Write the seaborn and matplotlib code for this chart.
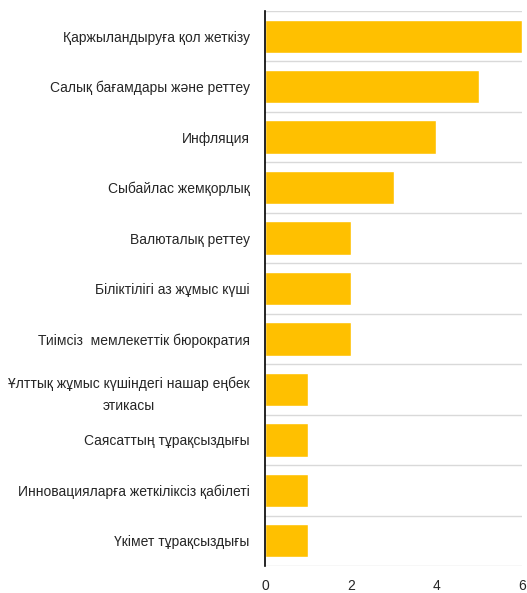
import numpy as np
import pandas as pd
import matplotlib
matplotlib.use("Agg")
import matplotlib.pyplot as plt
import seaborn as sns

categories = [
    "Қаржыландыруға қол жеткізу",
    "Салық бағамдары және реттеу",
    "Инфляция",
    "Сыбайлас жемқорлық",
    "Валюталық реттеу",
    "Біліктілігі аз жұмыс күші",
    "Тиімсіз  мемлекеттік бюрократия",
    "Ұлттық жұмыс күшіндегі нашар еңбек\nэтикасы",
    "Саясаттың тұрақсыздығы",
    "Инновацияларға жеткіліксіз қабілеті",
    "Үкімет тұрақсыздығы",
]
values = [6, 5, 4, 3, 2, 2, 2, 1, 1, 1, 1]
xticks = [0, 2, 4, 6]

df = pd.DataFrame({"category": categories, "value": values})

sns.set_theme(style="white")
plt.rcParams["font.family"] = ["Liberation Sans", "DejaVu Sans"]

fig = plt.figure(figsize=(5.27, 5.93), dpi=100)
ax = fig.add_axes([0.503, 0.0455, 0.4875, 0.936])

sns.barplot(data=df, x="value", y="category", orient="h", color="#FFC000",
            width=0.66, saturation=1, ax=ax)

ax.set_xlim(0, 6)
ax.set_ylim(len(categories) - 0.5, -0.5)
ax.set_xticks(xticks)
ax.set_xlabel("")
ax.set_ylabel("")

# separators between categories
ax.set_yticks(np.arange(-0.5, len(categories), 1), minor=True)
ax.grid(which="minor", axis="y", color="#D9D9D9", linewidth=1)
ax.grid(which="major", visible=False)
ax.set_axisbelow(True)

for s in ["top", "right", "bottom"]:
    ax.spines[s].set_visible(False)
ax.spines["left"].set_color("black")
ax.spines["left"].set_linewidth(1.2)

ax.tick_params(axis="y", which="both", length=0, pad=11, labelsize=10, labelcolor="#262626")
ax.tick_params(axis="x", which="both", length=0, pad=9, labelsize=10, labelcolor="#262626")
for lbl in ax.get_yticklabels():
    lbl.set_multialignment("center")
    lbl.set_linespacing(1.7)

fig.savefig("out.png", dpi=100)
